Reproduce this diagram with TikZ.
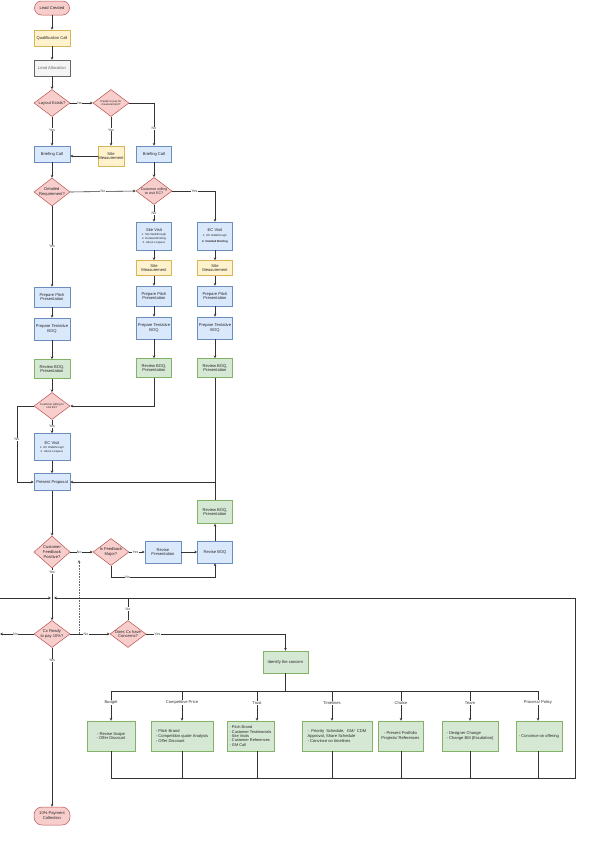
\documentclass[tikz,border=0pt]{standalone}
\usepackage{fontspec}
\setmainfont{Liberation Sans}
\usetikzlibrary{shapes.geometric,arrows.meta}
\definecolor{rfill}{HTML}{F8CECC}\definecolor{rdraw}{HTML}{B85450}
\definecolor{yfill}{HTML}{FFF2CC}\definecolor{ydraw}{HTML}{D6B656}
\definecolor{bfill}{HTML}{DAE8FC}\definecolor{bdraw}{HTML}{6C8EBF}
\definecolor{gfill}{HTML}{D5E8D4}\definecolor{gdraw}{HTML}{82B366}
\definecolor{kfill}{HTML}{F5F5F5}\definecolor{kdraw}{HTML}{666666}
\definecolor{linec}{HTML}{333333}
\newcommand{\myfa}{\fontsize{4.1}{4.9}\selectfont}
\newcommand{\myfb}{\fontsize{3.6}{4.2}\selectfont}
\newcommand{\myfc}{\fontsize{2.8}{3.3}\selectfont}
\begin{document}
\begin{tikzpicture}[x=1pt,y=-1pt,
  base/.style={draw, line width=0.5pt, inner sep=0.5pt, align=center, font=\myfa, text=black!85},
  pill/.style={base, fill=rfill, draw=rdraw, rounded corners=7pt, minimum width=35pt, minimum height=14pt},
  yel/.style={base, fill=yfill, draw=ydraw},
  blu/.style={base, fill=bfill, draw=bdraw},
  grn/.style={base, fill=gfill, draw=gdraw},
  gry/.style={base, fill=kfill, draw=kdraw, text=black!60},
  dia/.style={diamond, draw=rdraw, fill=rfill, line width=0.5pt, inner sep=0pt, minimum width=36pt, minimum height=27pt},
  dtext/.style={align=center, inner sep=0pt, font=\myfa, text=black!85},
  conn/.style={draw=linec, line width=0.6pt, -{Stealth[length=2.8pt,width=2.6pt]}},
  plain/.style={draw=linec, line width=0.6pt},
  lbl/.style={fill=white, inner sep=0.4pt, font=\myfb, text=black!75},
  blbl/.style={fill=white, inner sep=0.6pt, font=\myfa, text=black!80}
]
\useasboundingbox[fill=white] (0,0) rectangle (590,865);

% ---------- top ----------
\node[pill] (lead) at (52,8) {Lead Created};
\node[yel, minimum width=36pt, minimum height=16pt] (qual) at (52,38) {Qualification Call};
\node[gry, minimum width=36pt, minimum height=16pt] (alloc) at (52,68) {Lead Allocation};
\node[dia, label={[dtext]center:Layout Exists?}] (layout) at (52,103) {};
\node[dia, label={[dtext,font=\myfc]center:Ready to pay for\\measurement?}] (ready) at (111,103) {};
\node[blu, minimum width=36pt, minimum height=16pt] (brief1) at (52,154) {Briefing Call};
\node[yel, minimum width=26pt, minimum height=20pt] (sitem1) at (111,156) {Site\\Measurement};
\node[blu, minimum width=35pt, minimum height=16pt] (brief2) at (154,154) {Briefing Call};
\node[dia, minimum height=28pt, label={[dtext]center:Detailed\\Requirement?}] (detreq) at (52,192) {};
\node[dia, label={[dtext,font=\myfb]center:Customer willing\\to visit EC?}] (cwill1) at (154,191) {};

% ---------- columns 2 & 3 ----------
\node[blu, minimum width=35pt, minimum height=28pt] (sitevisit) at (154,236) {Site Visit\\[-0.5pt]{\myfc 1. Site Walkthrough}\\[-1pt]{\myfc 2. Detailed Briefing}\\[-1pt]{\myfc 3. About Livspace}};
\node[blu, minimum width=35pt, minimum height=28pt] (ecvisit1) at (215,236) {EC Visit\\[-0.5pt]{\myfc 1. EC Walkthrough}\\[1.5pt]{\myfc\bfseries 2. Detailed Briefing}};
\node[yel, minimum width=35pt, minimum height=15pt] (sitem2) at (154,268) {Site\\Measurement};
\node[yel, minimum width=35pt, minimum height=15pt] (sitem3) at (215,268) {Site\\Measurement};

\node[blu, minimum width=36pt, minimum height=20pt] (pitch1) at (52,297) {Prepare Pitch\\Presentation};
\node[blu, minimum width=35pt, minimum height=20pt] (pitch2) at (154,296) {Prepare Pitch\\Presentation};
\node[blu, minimum width=35pt, minimum height=20pt] (pitch3) at (215,296) {Prepare Pitch\\Presentation};
\node[blu, minimum width=36pt, minimum height=22pt] (tent1) at (52,329) {Prepare Tentative\\BOQ};
\node[blu, minimum width=35pt, minimum height=22pt] (tent2) at (154,328) {Prepare Tentative\\BOQ};
\node[blu, minimum width=35pt, minimum height=22pt] (tent3) at (215,328) {Prepare Tentative\\BOQ};
\node[grn, minimum width=36pt, minimum height=19pt] (rev1) at (52,369) {Review BOQ,\\Presentation};
\node[grn, minimum width=35pt, minimum height=19pt] (rev2) at (154,368) {Review BOQ,\\Presentation};
\node[grn, minimum width=35pt, minimum height=19pt] (rev3) at (215,368) {Review BOQ,\\Presentation};

\node[dia, label={[dtext,font=\myfc]center:Customer willing to\\visit EC?}] (cwill2) at (52,406) {};
\node[blu, minimum width=36pt, minimum height=27pt] (ecvisit2) at (52,447) {EC Visit\\[-0.5pt]{\myfc 1. EC Walkthrough}\\[-1pt]{\myfc 2. About Livspace}};
\node[blu, minimum width=36pt, minimum height=17pt] (present) at (52,482) {Present Proposal};
\node[grn, minimum width=35pt, minimum height=23pt] (rev4) at (215,512) {Review BOQ,\\Presentation};

\node[dia, minimum height=32pt, label={[dtext]center:Customer\\Feedback\\Positive?}] (cfp) at (52,552) {};
\node[dia, label={[dtext]center:Is Feedback\\Major?}] (major) at (111,552) {};
\node[blu, minimum width=36pt, minimum height=22pt] (revpres) at (163,552) {Revise\\Presentation};
\node[blu, minimum width=35pt, minimum height=22pt] (revboq) at (215,552) {Revise BOQ};

\node[dia, label={[dtext]center:Cx Ready\\to pay 10\%?}] (cxready) at (52,634) {};
\node[dia, label={[dtext]center:Does Cx have\\Concerns?}] (concerns) at (128,634) {};
\node[grn, minimum width=45pt, minimum height=22pt] (identify) at (285.5,662) {Identify the concern};
\node[pill, minimum height=18pt, minimum width=36pt, rounded corners=8pt] (pay) at (52,816) {10\% Payment\\Collection};

% ---------- concern boxes ----------
\node[grn, minimum width=48pt, minimum height=30pt] (budget) at (111,736) {- Revise Scope\\- Offer Discount};
\node[grn, minimum width=62pt, minimum height=30pt, align=left] (comp) at (182,736) {- Pitch Brand\\- Competition quote Analysis\\- Offer Discount};
\node[grn, minimum width=47pt, minimum height=30pt, align=left, font=\fontsize{3.9}{4.3}\selectfont] (trust) at (250.5,736) {- Pitch Brand\\- Customer Testimonials\\- Site Visits\\- Customer References\\- GM Call};
\node[grn, minimum width=70pt, minimum height=30pt, align=left] (timel) at (337,736) {-\ \ Priority\ \ Schedule,\ \ GM/\ \ CDM\\Approval, Share Schedule\\- Convince on timelines};
\node[grn, minimum width=45pt, minimum height=30pt] (choice) at (400.5,736) {- Present Portfolio\\Projects/ References};
\node[grn, minimum width=56pt, minimum height=30pt, align=left] (team) at (470,736) {- Designer Change\\- Change BM (Escalation)};
\node[grn, minimum width=46pt, minimum height=30pt] (proc) at (539,736) {- Convince on offering};

% ---------- coordinates ----------
\coordinate (lp) at (17,406);
\coordinate (mj) at (111,577);
\coordinate (cxl) at (0,634);
\coordinate (tl) at (0,598);
\coordinate (jl) at (51,598);
\coordinate (jr) at (54,598);
\coordinate (tr) at (575,598);
\coordinate (br) at (575,778);
\coordinate (cn) at (128,598);
\coordinate (d1) at (79,634);
\coordinate (d2) at (79,560);
\coordinate (idb) at (285.5,691);
\coordinate (bB) at (111,691);
\coordinate (bC) at (182,691);
\coordinate (bT) at (257,691);
\coordinate (bL) at (332,691);
\coordinate (bH) at (401,691);
\coordinate (bM) at (470,691);
\coordinate (bP) at (538,691);

% ---------- connectors ----------
\draw[conn] (lead) -- (qual);
\draw[conn] (qual) -- (alloc);
\draw[conn] (alloc) -- (layout);
\draw[conn] (layout.east) -- (ready.west) node[lbl,pos=0.42]{No};
\draw[conn] (layout.south) -- (brief1.north) node[lbl,pos=0.45]{Yes};
\draw[conn] (ready.south) -- (sitem1.north) node[lbl,pos=0.45]{Yes};
\draw[conn] (ready.east) -| (brief2.north) node[lbl,pos=0.8]{No};
\draw[conn] (sitem1.west) -- (brief1.east |- sitem1.west);
\draw[conn] (brief1) -- (detreq);
\draw[conn] (brief2) -- (cwill1);
\draw[conn] (detreq.east) -- (cwill1.west) node[lbl,pos=0.5]{No};
\draw[conn] (detreq.south) -- (pitch1.north) node[lbl,pos=0.5]{Yes};
\draw[conn] (cwill1.south) -- (sitevisit.north) node[lbl,pos=0.5]{No};
\draw[conn] (cwill1.east) -| (ecvisit1.north) node[lbl,pos=0.26]{Yes};
\draw[conn] (sitevisit) -- (sitem2);
\draw[conn] (sitem2) -- (pitch2);
\draw[conn] (pitch2) -- (tent2);
\draw[conn] (tent2) -- (rev2);
\draw[conn] (ecvisit1) -- (sitem3);
\draw[conn] (sitem3) -- (pitch3);
\draw[conn] (pitch3) -- (tent3);
\draw[conn] (tent3) -- (rev3);
\draw[conn] (pitch1) -- (tent1);
\draw[conn] (tent1) -- (rev1);
\draw[conn] (rev1) -- (cwill2);
\draw[conn] (rev2.south) |- (cwill2.east);
\draw[conn] (cwill2.south) -- (ecvisit2.north) node[lbl,pos=0.5]{Yes};
\draw[conn] (cwill2.west) -- (lp) |- (present.west) node[lbl,pos=0.22]{No};
\draw[conn] (ecvisit2) -- (present);
\draw[conn] (rev3.south) |- (present.east);
\draw[plain] (rev4.north) -- (rev3.south |- present.east);
\draw[conn] (present) -- (cfp);
\draw[conn] (cfp.east) -- (major.west) node[lbl,pos=0.4]{No};
\draw[conn] (major.east) -- (revpres.west) node[lbl,pos=0.4]{Yes};
\draw[conn] (revpres) -- (revboq);
\draw[conn] (revboq) -- (rev4);
\draw[conn] (major.south) -- (mj) -| (revboq.south) node[lbl,pos=0.08]{No};
\draw[conn] (cfp.south) -- (cxready.north) node[lbl,pos=0.07]{Yes};
\draw[conn] (cxready.west) -- (cxl) node[lbl,pos=0.54]{No};
\draw[conn] (tl) -- (jl);
\draw[conn] (cxready.east) -- (concerns.west) node[lbl,pos=0.4]{No};
\draw[conn, densely dotted, line width=0.4pt, draw=black!60] (d1) -- (d2);
\draw[plain] (concerns.north) -- (cn) node[lbl,pos=0.5]{No};
\draw[conn] (concerns.east) -| (identify.north) node[lbl,pos=0.04]{Yes};
\draw[conn] (cxready.south) -- (pay.north) node[lbl,pos=0.08]{Yes};

\draw[plain] (identify.south) -- (idb);
\draw[plain] (bB) -- (bP);
\draw[conn] (bB) -- (bB |- budget.north) node[blbl,pos=0.4]{Budget};
\draw[conn] (bC) -- (bC |- comp.north) node[blbl,pos=0.4]{Competitive Price};
\draw[conn] (bT) -- (bT |- trust.north) node[blbl,pos=0.4]{Trust};
\draw[conn] (bL) -- (bL |- timel.north) node[blbl,pos=0.4]{Timelines};
\draw[conn] (bH) -- (bH |- choice.north) node[blbl,pos=0.4]{Choice};
\draw[conn] (bM) -- (bM |- team.north) node[blbl,pos=0.4]{Team};
\draw[conn] (bP) -- (bP |- proc.north) node[blbl,pos=0.4]{Process/ Policy};

\draw[conn] (budget.south) -- (budget.south |- br) -- (br) -- (tr) -- (jr);
\draw[plain] (bC |- comp.south) -- (bC |- br);
\draw[plain] (bT |- trust.south) -- (bT |- br);
\draw[plain] (bL |- timel.south) -- (bL |- br);
\draw[plain] (bH |- choice.south) -- (bH |- br);
\draw[plain] (bM |- team.south) -- (bM |- br);
\draw[plain] (bP |- proc.south) -- (bP |- br);
\end{tikzpicture}
\end{document}
